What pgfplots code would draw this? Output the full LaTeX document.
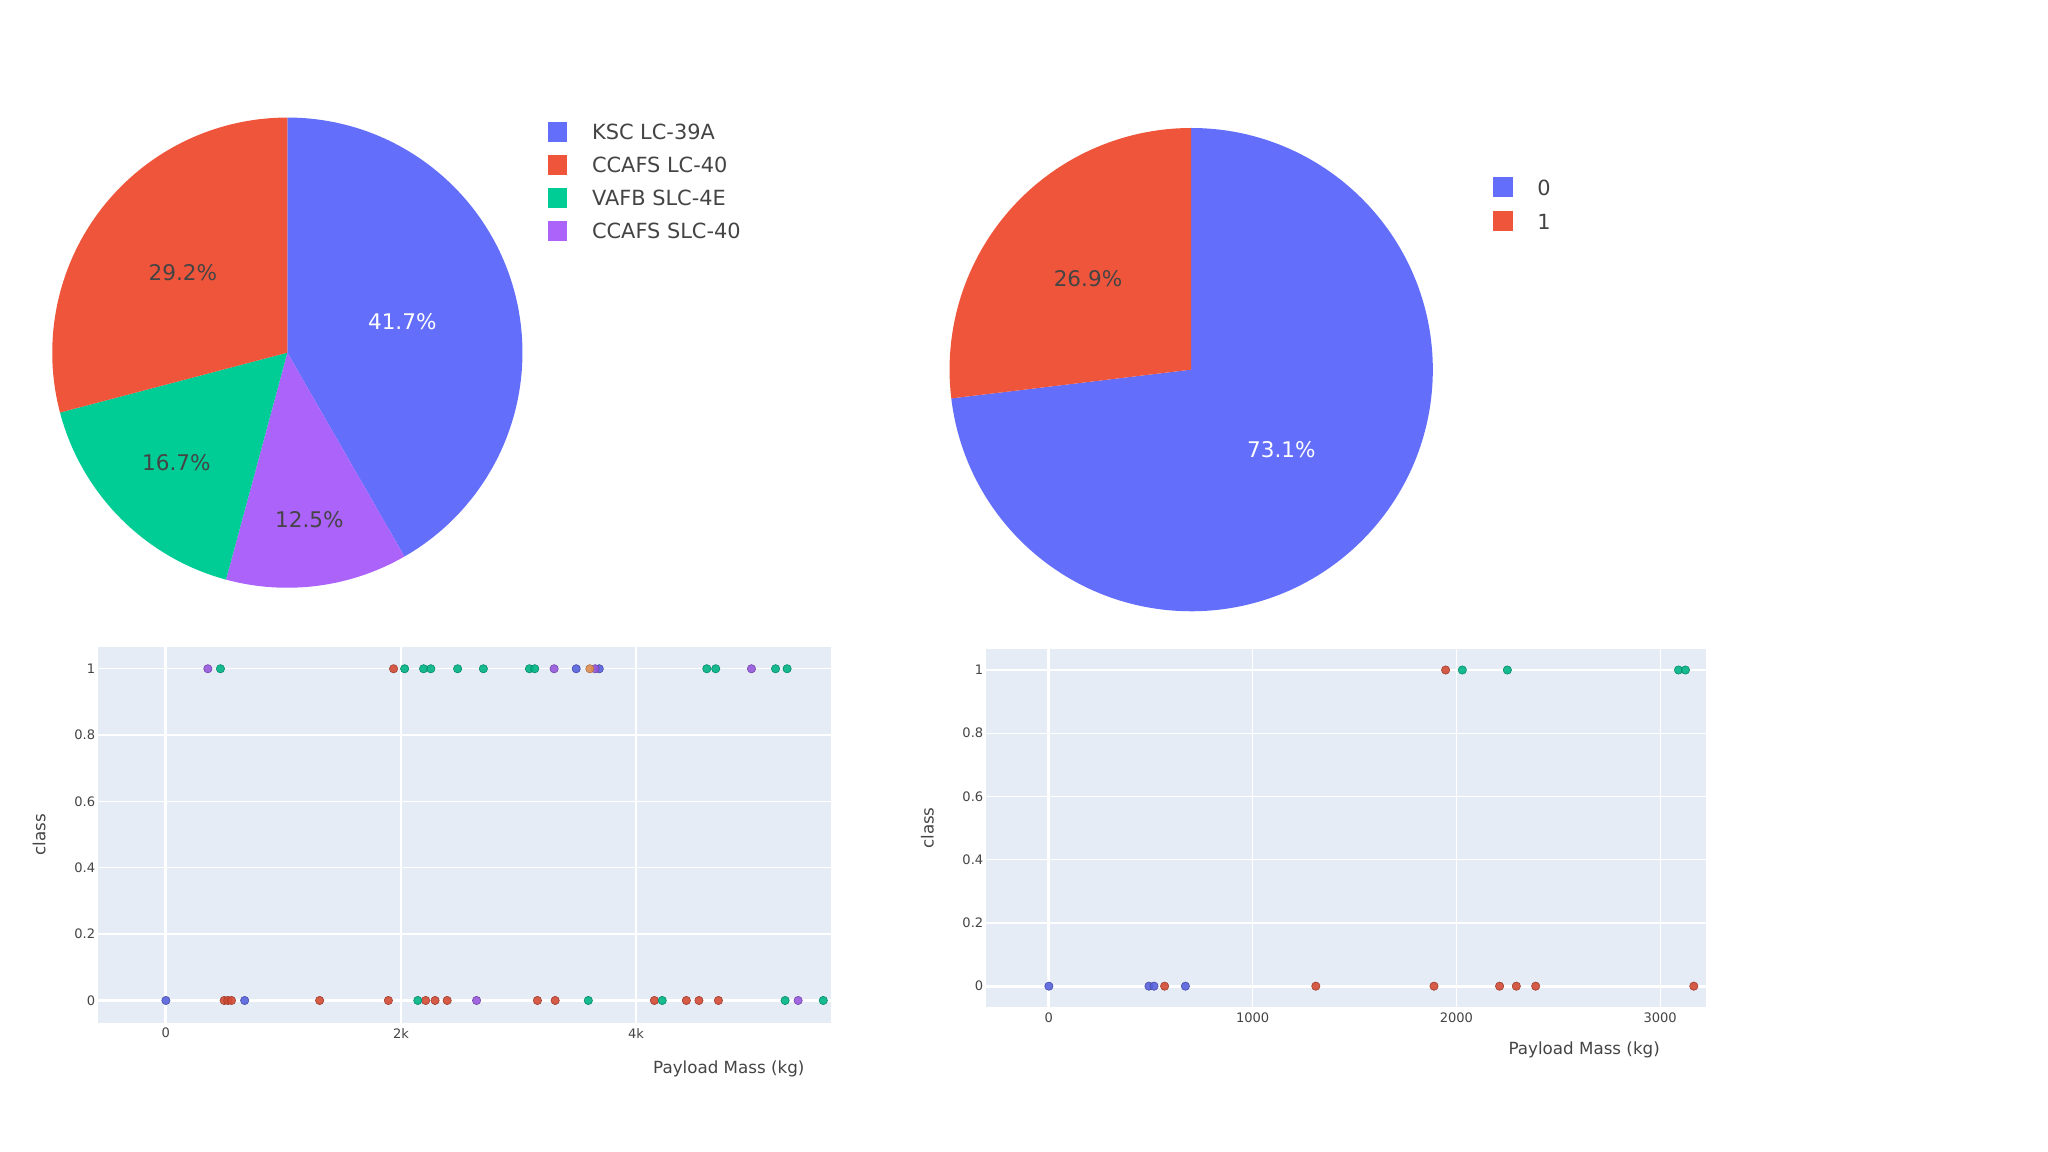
\documentclass[border=0pt]{standalone}
\usepackage{fontspec}
\setmainfont{DejaVu Sans}
\usepackage{pgfplots}
\pgfplotsset{compat=1.18}
\definecolor{pblue}{HTML}{636EFA}
\definecolor{pred}{HTML}{EF553B}
\definecolor{pgreen}{HTML}{00CC96}
\definecolor{ppurple}{HTML}{AB63FA}
\definecolor{porange}{HTML}{FFA15A}
\definecolor{pbg}{HTML}{E5ECF6}
\definecolor{ptext}{HTML}{2A3F5F}
\definecolor{pdark}{HTML}{444444}
\pgfplotsset{
  pielegend/.style={
    legend style={draw=none, fill=none, inner sep=0pt, row sep=5.3pt,
      font=\fontsize{16}{19}\selectfont, text=pdark,
      nodes={inner sep=0pt, text height=12pt, text depth=4pt},
      /tikz/every odd column/.append style={column sep=19pt}},
    legend cell align=left,
    legend image code/.code={\path[draw=none, fill=none] (0pt,-3pt) rectangle (15pt,12pt);
      \path[##1, draw=none] (0pt,-5.5pt) rectangle (15pt,9.5pt);},
  },
  scat/.style={
    scale only axis,
    axis background/.style={fill=pbg},
    axis line style={draw=none},
    major tick length=0pt,
    xmajorgrids, ymajorgrids,
    grid style={white, line width=1pt},
    extra x ticks={0}, extra x tick labels={},
    extra y ticks={0}, extra y tick labels={},
    extra tick style={grid style={white, line width=2.2pt}},
    tick label style={font=\fontsize{10}{12}\selectfont, text=pdark, inner sep=2pt},
    xticklabel style={yshift=-2pt},
    /pgf/number format/assume math mode=true,
    label style={font=\fontsize{12.8}{15}\selectfont, text=pdark},
    ymin=-0.067, ymax=1.067,
    ytick={0,0.2,0.4,0.6,0.8,1},
    yticklabels={0,0.2,0.4,0.6,0.8,1},
    ylabel={class},
    xlabel={Payload Mass (kg)},
    clip=false,
  },
  pt/.style={only marks, mark=*, mark size=3.2pt,
    mark options={fill=#1!88!black, draw=#1!65!black, line width=0.4pt, fill opacity=0.9}},
}
\begin{document}
\begin{tikzpicture}
\useasboundingbox (0pt,0pt) rectangle (1568pt,-882pt);

% ---------- Pie 1: launch sites ----------
\begin{axis}[at={(220pt,-270pt)}, anchor=center, x=180pt, y=180pt,
  xmin=-1, xmax=1, ymin=-1, ymax=1, hide axis, clip=false, pielegend,
  legend style={at={(axis description cs:1.053,0.9976)}, anchor=north west}]
  \addlegendimage{fill=pblue}\addlegendentry{KSC LC-39A}
  \addlegendimage{fill=pred}\addlegendentry{CCAFS LC-40}
  \addlegendimage{fill=pgreen}\addlegendentry{VAFB SLC-4E}
  \addlegendimage{fill=ppurple}\addlegendentry{CCAFS SLC-40}
  \fill[pblue] (axis cs:0,0) -- +(90:180pt) arc[start angle=90, delta angle={-3.6*41.7}, radius=180pt] -- cycle;
  \fill[ppurple] (axis cs:0,0) -- +({90-3.6*41.7}:180pt) arc[start angle={90-3.6*41.7}, delta angle={-3.6*12.5}, radius=180pt] -- cycle;
  \fill[pgreen] (axis cs:0,0) -- +({90-3.6*(41.7+12.5)}:180pt) arc[start angle={90-3.6*(41.7+12.5)}, delta angle={-3.6*16.7}, radius=180pt] -- cycle;
  \fill[pred] (axis cs:0,0) -- +({90-3.6*(41.7+12.5+16.7)}:180pt) arc[start angle={90-3.6*(41.7+12.5+16.7)}, end angle=-270, radius=180pt] -- cycle;
  \node[text=white, font=\fontsize{16.5}{19}\selectfont] at (axis cs:0.489,0.133) {41.7\%};
  \node[text=pdark, font=\fontsize{16.5}{19}\selectfont] at (axis cs:-0.444,0.339) {29.2\%};
  \node[text=pdark, font=\fontsize{16.5}{19}\selectfont] at (axis cs:-0.472,-0.467) {16.7\%};
  \node[text=pdark, font=\fontsize{16.5}{19}\selectfont] at (axis cs:0.094,-0.711) {12.5\%};
\end{axis}

% ---------- Pie 2: class ----------
\begin{axis}[at={(912pt,-283pt)}, anchor=center, x=185pt, y=185pt,
  xmin=-1, xmax=1, ymin=-1, ymax=1, hide axis, clip=false, pielegend,
  legend style={at={(axis description cs:1.124,0.905)}, anchor=north west, row sep=6pt}]
  \addlegendimage{fill=pblue}\addlegendentry{0}
  \addlegendimage{fill=pred}\addlegendentry{1}
  \fill[pblue] (axis cs:0,0) -- +(90:185pt) arc[start angle=90, delta angle={-3.6*73.1}, radius=185pt] -- cycle;
  \fill[pred] (axis cs:0,0) -- +({90-3.6*73.1}:185pt) arc[start angle={90-3.6*73.1}, end angle=-270, radius=185pt] -- cycle;
  \node[text=white, font=\fontsize{16.5}{19}\selectfont] at (axis cs:0.373,-0.330) {73.1\%};
  \node[text=pdark, font=\fontsize{16.5}{19}\selectfont] at (axis cs:-0.427,0.378) {26.9\%};
\end{axis}

% ---------- Scatter 1 ----------
\begin{axis}[scat, at={(75pt,-783pt)}, anchor=south west, width=561pt, height=288pt,
  xmin=-578, xmax=5656, xtick={0,2000,4000}, xticklabels={0,2k,4k},
  xlabel style={at={(axis description cs:0.861,-0.1215)}, anchor=center},
  ylabel style={at={(axis description cs:-0.0802,0.5)}, anchor=center}]
  \addplot[pt=pblue] coordinates {(0,0) (670,0) (3491,1) (3687,1)};
  \addplot[pt=pred] coordinates {(496,0) (527,0) (558,0) (1308,0) (1893,0) (2210,0) (2290,0) (2393,0) (3161,0) (3312,0) (4156,0) (4428,0) (4535,0) (4701,0) (1937,1)};
  \addplot[pt=pgreen] coordinates {(2143,0) (3594,0) (4223,0) (5268,0) (5593,0) (464,1) (2031,1) (2192,1) (2254,1) (2482,1) (2701,1) (3093,1) (3138,1) (4602,1) (4678,1) (5187,1) (5285,1)};
  \addplot[pt=ppurple] coordinates {(2643,0) (5379,0) (357,1) (3303,1) (3652,1) (4982,1)};
  \addplot[pt=porange] coordinates {(3607,1)};
\end{axis}

% ---------- Scatter 2 ----------
\begin{axis}[scat, at={(755pt,-771pt)}, anchor=south west, width=551pt, height=274pt,
  xmin=-308, xmax=3224, xtick={0,1000,2000,3000}, xticklabels={0,1000,2000,3000},
  ymin=-0.066, ymax=1.066,
  xlabel style={at={(axis description cs:0.831,-0.1204)}, anchor=center},
  ylabel style={at={(axis description cs:-0.0817,0.5)}, anchor=center}]
  \addplot[pt=pblue] coordinates {(0,0) (491,0) (516,0) (670,0)};
  \addplot[pt=pred] coordinates {(568,0) (1310,0) (1890,0) (2212,0) (2294,0) (2389,0) (3165,0) (1947,1)};
  \addplot[pt=pgreen] coordinates {(2029,1) (2250,1) (3090,1) (3124,1)};
\end{axis}
\end{tikzpicture}
\end{document}
